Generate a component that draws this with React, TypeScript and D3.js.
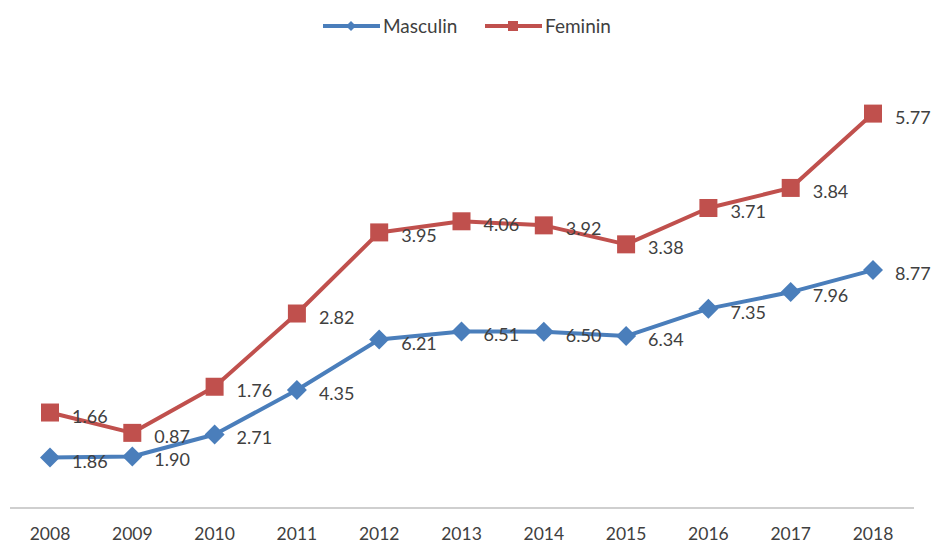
import { useEffect, useRef } from 'react';
import * as d3 from 'd3';

const years = ['2008', '2009', '2010', '2011', '2012', '2013', '2014', '2015', '2016', '2017', '2018'];
const masculin = [1.86, 1.9, 2.71, 4.35, 6.21, 6.51, 6.5, 6.34, 7.35, 7.96, 8.77];
const feminin = [1.66, 0.87, 1.76, 2.82, 3.95, 4.06, 3.92, 3.38, 3.71, 3.84, 5.77];

const BLUE = '#4a7ebb';
const RED = '#c0504d';
const FONT = 'Lato, "Open Sans", sans-serif';

export default function App() {
  const svgRef = useRef<SVGSVGElement>(null);

  useEffect(() => {
    if (!svgRef.current) return;
    const svg = d3.select(svgRef.current);
    svg.selectAll('*').remove();

    const width = 935;
    const height = 545;

    const x = d3.scalePoint<string>()
      .domain(years)
      .range([50, 873]);

    // stacked line chart: feminin is drawn on top of masculin
    const y = d3.scaleLinear().domain([0, 16]).range([508, 74]);

    const stackedF = feminin.map((v, i) => v + masculin[i]);

    svg.attr('width', width).attr('height', height);

    // category axis
    svg.append('line')
      .attr('x1', 10).attr('x2', 914)
      .attr('y1', y(0)).attr('y2', y(0))
      .attr('stroke', '#bfbfbf').attr('stroke-width', 1.5);

    svg.append('g')
      .selectAll('text')
      .data(years)
      .join('text')
      .attr('x', d => x(d)!)
      .attr('y', 540)
      .attr('text-anchor', 'middle')
      .attr('font-family', FONT)
      .attr('font-size', 17.5)
      .attr('fill', '#404040')
      .text(d => d);

    const line = d3.line<number>()
      .x((_, i) => x(years[i])!)
      .y(d => y(d));

    // masculin
    svg.append('path')
      .datum(masculin)
      .attr('d', line)
      .attr('fill', 'none')
      .attr('stroke', BLUE)
      .attr('stroke-width', 4)
      .attr('stroke-linejoin', 'round');

    // feminin
    svg.append('path')
      .datum(stackedF)
      .attr('d', line)
      .attr('fill', 'none')
      .attr('stroke', RED)
      .attr('stroke-width', 4)
      .attr('stroke-linejoin', 'round');

    const diamond = (cx: number, cy: number, r: number) =>
      `M${cx},${cy - r}L${cx + r},${cy}L${cx},${cy + r}L${cx - r},${cy}Z`;

    svg.append('g')
      .selectAll('path')
      .data(masculin)
      .join('path')
      .attr('d', (d, i) => diamond(x(years[i])!, y(d), 10))
      .attr('fill', BLUE);

    svg.append('g')
      .selectAll('rect')
      .data(stackedF)
      .join('rect')
      .attr('x', (_, i) => x(years[i])! - 9)
      .attr('y', d => y(d) - 9)
      .attr('width', 18)
      .attr('height', 18)
      .attr('fill', RED);

    // data labels, to the right of each point
    const labels = (vals: number[], pos: number[]) =>
      svg.append('g')
        .selectAll('text')
        .data(vals)
        .join('text')
        .attr('x', (_, i) => x(years[i])! + 22)
        .attr('y', (_, i) => y(pos[i]) + 10)
        .attr('font-family', FONT)
        .attr('font-size', 18)
        .attr('fill', '#404040')
        .text(d => d.toFixed(2));

    labels(masculin, masculin);
    labels(feminin, stackedF);

    // legend
    const legend = svg.append('g');
    legend.append('line')
      .attr('x1', 323).attr('x2', 380).attr('y1', 26).attr('y2', 26)
      .attr('stroke', BLUE).attr('stroke-width', 4);
    legend.append('path')
      .attr('d', diamond(351, 26, 5))
      .attr('fill', BLUE);
    legend.append('text')
      .attr('x', 383).attr('y', 33)
      .attr('font-family', FONT).attr('font-size', 19).attr('fill', '#404040')
      .text('Masculin');

    legend.append('line')
      .attr('x1', 485).attr('x2', 542).attr('y1', 26).attr('y2', 26)
      .attr('stroke', RED).attr('stroke-width', 4);
    legend.append('rect')
      .attr('x', 508).attr('y', 21).attr('width', 10).attr('height', 10)
      .attr('fill', RED);
    legend.append('text')
      .attr('x', 545).attr('y', 33)
      .attr('font-family', FONT).attr('font-size', 19).attr('fill', '#404040')
      .text('Feminin');
  }, []);

  return (
    <div style={{ position: 'absolute', left: 0, top: 0 }}>
      <svg ref={svgRef} />
    </div>
  );
}
